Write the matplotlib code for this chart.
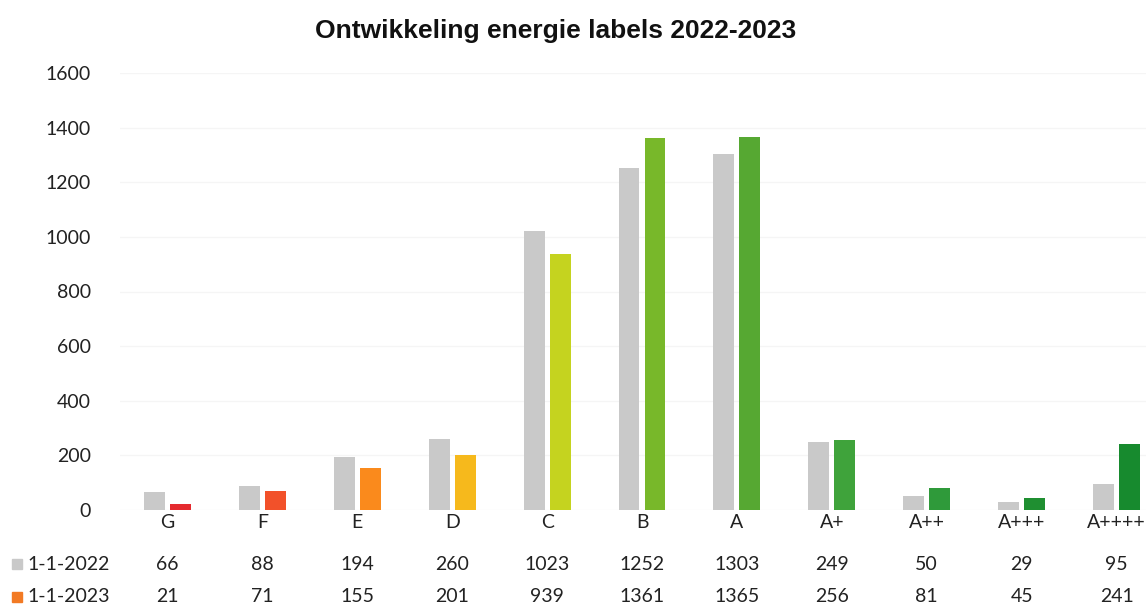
import numpy as np
import matplotlib.pyplot as plt
from matplotlib.patches import Rectangle
import matplotlib.transforms as mtransforms

labels = ["G", "F", "E", "D", "C", "B", "A", "A+", "A++", "A+++", "A++++"]
jan_2022 = [66, 88, 194, 260, 1023, 1252, 1303, 249, 50, 29, 95]
jan_2023 = [21, 71, 155, 201, 939, 1361, 1365, 256, 81, 45, 241]
series_names = ["1-1-2022", "1-1-2023"]

gray = "#c9c9c9"
colors_2023 = ["#e52a2f", "#f2512a", "#fa8a1c", "#f6b91c", "#c5d31f", "#78b82a",
               "#56a832", "#3fa33b", "#2f9a3a", "#1f8f31", "#178a2e"]
legend_2023 = "#f27a24"

plt.rcParams['font.family'] = ['Lato', 'DejaVu Sans']
fs = 14

fig = plt.figure(figsize=(11.46, 6.07), dpi=100)
W, H = 1146, 607
# axes run past the right edge of the figure
ax = fig.add_axes([120 / W, 1 - 510 / H, 1044 / W, (510 - 73) / H])

x = np.arange(len(labels))
w = 0.22
off = 0.137
ax.bar(x - off, jan_2022, w, color=gray, edgecolor="none", zorder=2)
ax.bar(x + off, jan_2023, w, color=colors_2023, edgecolor="none", zorder=2)

ax.set_xlim(-0.5, len(labels) - 0.5)
ax.set_ylim(0, 1600)
ax.set_yticks(range(0, 1601, 200))
ax.tick_params(axis="y", length=0, labelsize=fs, pad=21, labelcolor="#222222")
ax.set_xticks([])
ax.grid(axis="y", color="#f5f5f5", linewidth=1, zorder=0)
for s in ax.spines.values():
    s.set_visible(False)

fig.text(556 / W, 1 - 31 / H, "Ontwikkeling energie labels 2022-2023",
         ha="center", va="center", fontsize=19, fontweight="bold",
         family="Liberation Sans", color="#111111")

# data table under the chart
tr = mtransforms.blended_transform_factory(ax.transData, fig.transFigure)
for i, lab in enumerate(labels):
    ax.text(i, 1 - 523 / H, lab, transform=tr, ha="center", va="center",
            fontsize=fs, color="#222222", clip_on=False)
    ax.text(i, 1 - 564 / H, str(jan_2022[i]), transform=tr, ha="center",
            va="center", fontsize=fs, color="#222222", clip_on=False)
    ax.text(i, 1 - 597 / H, str(jan_2023[i]), transform=tr, ha="center",
            va="center", fontsize=fs, color="#222222", clip_on=False)

for row_y, name, col in [(564, series_names[0], gray), (597, series_names[1], legend_2023)]:
    fig.patches.append(Rectangle((12 / W, 1 - (row_y + 5) / H), 10 / W, 10 / H,
                                 transform=fig.transFigure, color=col))
    fig.text(27 / W, 1 - row_y / H, name, ha="left", va="center", fontsize=fs,
             color="#222222")

fig.savefig("out.png", dpi=100)
